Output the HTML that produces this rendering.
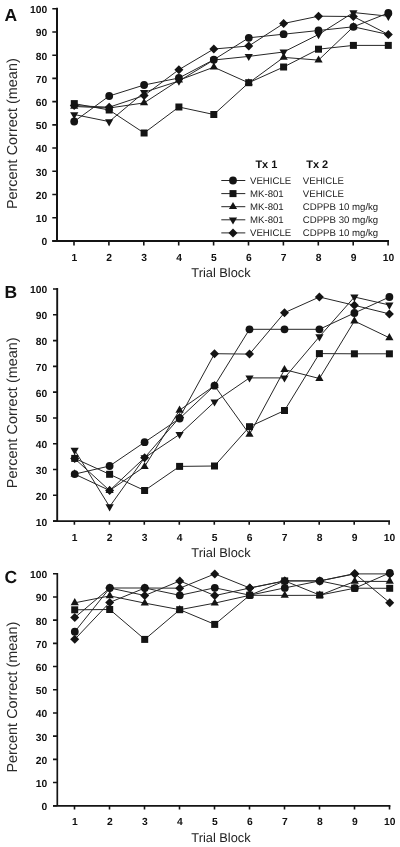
<!DOCTYPE html>
<html><head><meta charset="utf-8"><title>Percent Correct by Trial Block</title>
<style>
html,body{margin:0;padding:0;background:#fff;}
body{width:400px;height:847px;overflow:hidden;}
svg{display:block;will-change:transform;}
text{font-family:"Liberation Sans",sans-serif;fill:#111;text-rendering:geometricPrecision;}
.tl{font-size:10.3px;font-weight:bold;}
.xl{font-size:12.8px;fill:#222;}
.yl{font-size:14.45px;fill:#2a2a2a;}
.pl{font-size:17.5px;font-weight:bold;}
.lh{font-size:11px;font-weight:bold;}
.lt{font-size:9.65px;fill:#222;}
.ax{stroke:#141414;stroke-width:2;fill:none;}
.tk{stroke:#141414;stroke-width:1.6;fill:none;}
.ln{stroke:#262626;stroke-width:1.0;fill:none;}
.mk{fill:#141414;stroke:none;}
</style></head>
<body>
<svg width="400" height="847" viewBox="0 0 400 847">
<path class="ax" style="stroke-width:2.0" d="M57.0 7.8V240.9M52.3 240.9H389.0"/>
<path class="tk" d="M52.3 240.90H57.0M52.3 217.69H57.0M52.3 194.47H57.0M52.3 171.25H57.0M52.3 148.04H57.0M52.3 124.83H57.0M52.3 101.61H57.0M52.3 78.40H57.0M52.3 55.18H57.0M52.3 31.97H57.0M52.3 8.75H57.0"/>
<path class="tk" d="M74.0 240.9V245.6M108.9 240.9V245.6M143.8 240.9V245.6M178.7 240.9V245.6M213.6 240.9V245.6M248.5 240.9V245.6M283.4 240.9V245.6M318.3 240.9V245.6M353.2 240.9V245.6M388.1 240.9V245.6"/>
<text class="tl" x="47.3" y="245.3" text-anchor="end">0</text>
<text class="tl" x="47.3" y="222.1" text-anchor="end">10</text>
<text class="tl" x="47.3" y="198.9" text-anchor="end">20</text>
<text class="tl" x="47.3" y="175.7" text-anchor="end">30</text>
<text class="tl" x="47.3" y="152.4" text-anchor="end">40</text>
<text class="tl" x="47.3" y="129.2" text-anchor="end">50</text>
<text class="tl" x="47.3" y="106.0" text-anchor="end">60</text>
<text class="tl" x="47.3" y="82.8" text-anchor="end">70</text>
<text class="tl" x="47.3" y="59.6" text-anchor="end">80</text>
<text class="tl" x="47.3" y="36.4" text-anchor="end">90</text>
<text class="tl" x="47.3" y="13.2" text-anchor="end">100</text>
<text class="tl" x="74.3" y="261.2" text-anchor="middle">1</text>
<text class="tl" x="109.2" y="261.2" text-anchor="middle">2</text>
<text class="tl" x="144.1" y="261.2" text-anchor="middle">3</text>
<text class="tl" x="179.0" y="261.2" text-anchor="middle">4</text>
<text class="tl" x="213.9" y="261.2" text-anchor="middle">5</text>
<text class="tl" x="248.8" y="261.2" text-anchor="middle">6</text>
<text class="tl" x="283.7" y="261.2" text-anchor="middle">7</text>
<text class="tl" x="318.6" y="261.2" text-anchor="middle">8</text>
<text class="tl" x="353.5" y="261.2" text-anchor="middle">9</text>
<text class="tl" x="388.4" y="261.2" text-anchor="middle">10</text>
<text class="xl" x="221" y="277.0" text-anchor="middle">Trial Block</text>
<text class="yl" transform="translate(17.3 133.7) rotate(-90)" text-anchor="middle">Percent Correct (mean)</text>
<text class="pl" x="4.6" y="20.9">A</text>
<polyline class="ln" points="74.2,103.6 109.2,110.0 144.1,133.0 178.9,107.0 213.8,114.5 248.8,82.7 283.6,67.0 318.5,49.2 353.4,45.4 388.3,45.4"/>
<polyline class="ln" points="74.2,106.5 109.2,108.0 144.1,102.9 178.9,80.2 213.8,67.2 248.8,82.9 283.6,57.4 318.5,60.1 353.4,26.8 388.3,34.5"/>
<polyline class="ln" points="74.2,114.5 109.2,121.6 144.1,92.3 178.9,81.0 213.8,60.0 248.8,56.4 283.6,52.0 318.5,34.5 353.4,12.5 388.3,16.2"/>
<polyline class="ln" points="74.2,105.6 109.2,107.2 144.1,95.5 178.9,69.7 213.8,49.0 248.8,46.0 283.6,23.5 318.5,16.2 353.4,16.5 388.3,34.5"/>
<polyline class="ln" points="74.2,121.5 109.2,96.0 144.1,85.0 178.9,78.0 213.8,59.7 248.8,37.8 283.6,34.2 318.5,30.5 353.4,26.8 388.3,13.0"/>
<g class="mk"><path d="M70.15 108.85H78.35L74.25 101.70Z"/><path d="M105.05 110.40H113.25L109.15 103.25Z"/><path d="M139.95 105.25H148.15L144.05 98.10Z"/><path d="M174.85 82.55H183.05L178.95 75.40Z"/><path d="M209.75 69.55H217.95L213.85 62.40Z"/><path d="M244.65 85.30H252.85L248.75 78.15Z"/><path d="M279.55 59.85H287.75L283.65 52.70Z"/><path d="M314.45 62.55H322.65L318.55 55.40Z"/><path d="M349.35 29.20H357.55L353.45 22.05Z"/><path d="M70.15 112.15H78.35L74.25 119.30Z"/><path d="M105.05 119.25H113.25L109.15 126.40Z"/><path d="M139.95 89.95H148.15L144.05 97.10Z"/><path d="M174.85 78.65H183.05L178.95 85.80Z"/><path d="M209.75 57.60H217.95L213.85 64.75Z"/><path d="M244.65 53.95H252.85L248.75 61.10Z"/><path d="M279.55 49.55H287.75L283.65 56.70Z"/><path d="M314.45 32.05H322.65L318.55 39.20Z"/><path d="M349.35 10.15H357.55L353.45 17.30Z"/><path d="M384.25 13.85H392.45L388.35 21.00Z"/><path d="M74.2 101.1L78.8 105.6L74.2 110.1L69.8 105.6Z"/><path d="M109.2 102.7L113.7 107.2L109.2 111.7L104.7 107.2Z"/><path d="M144.1 91.0L148.6 95.5L144.1 100.0L139.6 95.5Z"/><path d="M178.9 65.2L183.4 69.7L178.9 74.2L174.4 69.7Z"/><path d="M213.8 44.5L218.3 49.0L213.8 53.5L209.3 49.0Z"/><path d="M248.8 41.5L253.2 46.0L248.8 50.5L244.2 46.0Z"/><path d="M283.6 19.0L288.1 23.5L283.6 28.0L279.1 23.5Z"/><path d="M318.5 11.7L323.0 16.2L318.5 20.7L314.0 16.2Z"/><path d="M353.4 12.0L357.9 16.5L353.4 21.0L348.9 16.5Z"/><path d="M388.3 30.0L392.8 34.5L388.3 39.0L383.8 34.5Z"/><rect x="70.8" y="100.1" width="7" height="7"/><rect x="105.7" y="106.5" width="7" height="7"/><rect x="140.6" y="129.5" width="7" height="7"/><rect x="175.4" y="103.5" width="7" height="7"/><rect x="210.3" y="111.0" width="7" height="7"/><rect x="245.2" y="79.2" width="7" height="7"/><rect x="280.1" y="63.5" width="7" height="7"/><rect x="315.0" y="45.7" width="7" height="7"/><rect x="349.9" y="41.9" width="7" height="7"/><rect x="384.8" y="41.9" width="7" height="7"/><circle cx="74.2" cy="121.5" r="3.9"/><circle cx="109.2" cy="96.0" r="3.9"/><circle cx="144.1" cy="85.0" r="3.9"/><circle cx="178.9" cy="78.0" r="3.9"/><circle cx="213.8" cy="59.7" r="3.9"/><circle cx="248.8" cy="37.8" r="3.9"/><circle cx="283.6" cy="34.2" r="3.9"/><circle cx="318.5" cy="30.5" r="3.9"/><circle cx="353.4" cy="26.8" r="3.9"/><circle cx="388.3" cy="13.0" r="3.9"/></g>
<path class="ax" style="stroke-width:1.9" d="M57.2 288.1V521.1M53.0 521.1H390.0"/>
<path class="tk" d="M53.0 521.10H57.2M53.0 495.31H57.2M53.0 469.52H57.2M53.0 443.73H57.2M53.0 417.94H57.2M53.0 392.16H57.2M53.0 366.37H57.2M53.0 340.58H57.2M53.0 314.79H57.2M53.0 289.00H57.2"/>
<path class="tk" d="M74.4 521.1V524.8M109.4 521.1V524.8M144.3 521.1V524.8M179.3 521.1V524.8M214.3 521.1V524.8M249.2 521.1V524.8M284.2 521.1V524.8M319.2 521.1V524.8M354.2 521.1V524.8M389.1 521.1V524.8"/>
<text class="tl" x="47.3" y="525.5" text-anchor="end">10</text>
<text class="tl" x="47.3" y="499.7" text-anchor="end">20</text>
<text class="tl" x="47.3" y="473.9" text-anchor="end">30</text>
<text class="tl" x="47.3" y="448.1" text-anchor="end">40</text>
<text class="tl" x="47.3" y="422.3" text-anchor="end">50</text>
<text class="tl" x="47.3" y="396.6" text-anchor="end">60</text>
<text class="tl" x="47.3" y="370.8" text-anchor="end">70</text>
<text class="tl" x="47.3" y="345.0" text-anchor="end">80</text>
<text class="tl" x="47.3" y="319.2" text-anchor="end">90</text>
<text class="tl" x="47.3" y="293.4" text-anchor="end">100</text>
<text class="tl" x="74.7" y="540.5" text-anchor="middle">1</text>
<text class="tl" x="109.7" y="540.5" text-anchor="middle">2</text>
<text class="tl" x="144.6" y="540.5" text-anchor="middle">3</text>
<text class="tl" x="179.6" y="540.5" text-anchor="middle">4</text>
<text class="tl" x="214.6" y="540.5" text-anchor="middle">5</text>
<text class="tl" x="249.6" y="540.5" text-anchor="middle">6</text>
<text class="tl" x="284.5" y="540.5" text-anchor="middle">7</text>
<text class="tl" x="319.5" y="540.5" text-anchor="middle">8</text>
<text class="tl" x="354.5" y="540.5" text-anchor="middle">9</text>
<text class="tl" x="389.4" y="540.5" text-anchor="middle">10</text>
<text class="xl" x="221" y="557.2" text-anchor="middle">Trial Block</text>
<text class="yl" transform="translate(17.3 412.8) rotate(-90)" text-anchor="middle">Percent Correct (mean)</text>
<text class="pl" x="4.6" y="297.9">B</text>
<polyline class="ln" points="74.7,458.4 109.6,474.3 144.6,490.5 179.6,466.4 214.5,466.0 249.5,426.7 284.5,410.5 319.4,353.6 354.4,353.8 389.4,353.8"/>
<polyline class="ln" points="74.7,474.1 109.6,490.5 144.6,466.6 179.6,410.2 214.5,385.7 249.5,434.4 284.5,369.6 319.4,378.5 354.4,321.0 389.4,337.8"/>
<polyline class="ln" points="74.7,450.2 109.6,506.7 144.6,457.7 179.6,434.4 214.5,401.9 249.5,377.9 284.5,377.9 319.4,336.7 354.4,297.0 389.4,305.0"/>
<polyline class="ln" points="74.7,458.6 109.6,490.5 144.6,457.7 179.6,417.5 214.5,353.7 249.5,354.1 284.5,312.7 319.4,297.0 354.4,305.3 389.4,313.9"/>
<polyline class="ln" points="74.7,474.1 109.6,466.0 144.6,442.2 179.6,418.5 214.5,385.7 249.5,329.3 284.5,329.3 319.4,329.3 354.4,313.0 389.4,297.0"/>
<g class="mk"><path d="M70.55 476.50H78.75L74.65 469.35Z"/><path d="M105.52 492.90H113.72L109.62 485.75Z"/><path d="M140.49 469.05H148.69L144.59 461.90Z"/><path d="M175.46 412.65H183.66L179.56 405.50Z"/><path d="M210.43 388.10H218.63L214.53 380.95Z"/><path d="M245.40 436.85H253.60L249.50 429.70Z"/><path d="M280.37 372.05H288.57L284.47 364.90Z"/><path d="M315.34 380.95H323.54L319.44 373.80Z"/><path d="M350.31 323.45H358.51L354.41 316.30Z"/><path d="M385.28 340.15H393.48L389.38 333.00Z"/><path d="M70.55 447.75H78.75L74.65 454.90Z"/><path d="M105.52 504.25H113.72L109.62 511.40Z"/><path d="M140.49 455.30H148.69L144.59 462.45Z"/><path d="M175.46 431.95H183.66L179.56 439.10Z"/><path d="M210.43 399.45H218.63L214.53 406.60Z"/><path d="M245.40 375.45H253.60L249.50 382.60Z"/><path d="M280.37 375.45H288.57L284.47 382.60Z"/><path d="M315.34 334.25H323.54L319.44 341.40Z"/><path d="M350.31 294.55H358.51L354.41 301.70Z"/><path d="M385.28 302.55H393.48L389.38 309.70Z"/><path d="M74.7 454.1L79.2 458.6L74.7 463.1L70.2 458.6Z"/><path d="M109.6 486.0L114.1 490.5L109.6 495.0L105.1 490.5Z"/><path d="M144.6 453.2L149.1 457.7L144.6 462.2L140.1 457.7Z"/><path d="M179.6 413.0L184.1 417.5L179.6 422.0L175.1 417.5Z"/><path d="M214.5 349.2L219.0 353.7L214.5 358.2L210.0 353.7Z"/><path d="M249.5 349.6L254.0 354.1L249.5 358.6L245.0 354.1Z"/><path d="M284.5 308.2L289.0 312.7L284.5 317.2L280.0 312.7Z"/><path d="M319.4 292.5L323.9 297.0L319.4 301.5L314.9 297.0Z"/><path d="M354.4 300.8L358.9 305.3L354.4 309.8L349.9 305.3Z"/><path d="M389.4 309.4L393.9 313.9L389.4 318.4L384.9 313.9Z"/><rect x="71.2" y="454.9" width="7" height="7"/><rect x="106.1" y="470.8" width="7" height="7"/><rect x="141.1" y="487.0" width="7" height="7"/><rect x="176.1" y="462.9" width="7" height="7"/><rect x="211.0" y="462.5" width="7" height="7"/><rect x="246.0" y="423.2" width="7" height="7"/><rect x="281.0" y="407.0" width="7" height="7"/><rect x="315.9" y="350.1" width="7" height="7"/><rect x="350.9" y="350.3" width="7" height="7"/><rect x="385.9" y="350.3" width="7" height="7"/><circle cx="74.7" cy="474.1" r="3.9"/><circle cx="109.6" cy="466.0" r="3.9"/><circle cx="144.6" cy="442.2" r="3.9"/><circle cx="179.6" cy="418.5" r="3.9"/><circle cx="214.5" cy="385.7" r="3.9"/><circle cx="249.5" cy="329.3" r="3.9"/><circle cx="284.5" cy="329.3" r="3.9"/><circle cx="319.4" cy="329.3" r="3.9"/><circle cx="354.4" cy="313.0" r="3.9"/><circle cx="389.4" cy="297.0" r="3.9"/></g>
<path class="ax" style="stroke-width:1.7" d="M57.3 572.9V805.8M53.0 805.8H390.4"/>
<path class="tk" d="M53.0 805.75H57.3M53.0 782.55H57.3M53.0 759.35H57.3M53.0 736.15H57.3M53.0 712.95H57.3M53.0 689.75H57.3M53.0 666.55H57.3M53.0 643.35H57.3M53.0 620.15H57.3M53.0 596.95H57.3M53.0 573.75H57.3"/>
<path class="tk" d="M74.5 805.8V809.5M109.5 805.8V809.5M144.5 805.8V809.5M179.5 805.8V809.5M214.5 805.8V809.5M249.5 805.8V809.5M284.5 805.8V809.5M319.5 805.8V809.5M354.5 805.8V809.5M389.5 805.8V809.5"/>
<text class="tl" x="47.3" y="810.1" text-anchor="end">0</text>
<text class="tl" x="47.3" y="786.9" text-anchor="end">10</text>
<text class="tl" x="47.3" y="763.8" text-anchor="end">20</text>
<text class="tl" x="47.3" y="740.5" text-anchor="end">30</text>
<text class="tl" x="47.3" y="717.4" text-anchor="end">40</text>
<text class="tl" x="47.3" y="694.1" text-anchor="end">50</text>
<text class="tl" x="47.3" y="670.9" text-anchor="end">60</text>
<text class="tl" x="47.3" y="647.8" text-anchor="end">70</text>
<text class="tl" x="47.3" y="624.5" text-anchor="end">80</text>
<text class="tl" x="47.3" y="601.4" text-anchor="end">90</text>
<text class="tl" x="47.3" y="578.1" text-anchor="end">100</text>
<text class="tl" x="74.8" y="825.0" text-anchor="middle">1</text>
<text class="tl" x="109.8" y="825.0" text-anchor="middle">2</text>
<text class="tl" x="144.8" y="825.0" text-anchor="middle">3</text>
<text class="tl" x="179.8" y="825.0" text-anchor="middle">4</text>
<text class="tl" x="214.8" y="825.0" text-anchor="middle">5</text>
<text class="tl" x="249.8" y="825.0" text-anchor="middle">6</text>
<text class="tl" x="284.8" y="825.0" text-anchor="middle">7</text>
<text class="tl" x="319.8" y="825.0" text-anchor="middle">8</text>
<text class="tl" x="354.8" y="825.0" text-anchor="middle">9</text>
<text class="tl" x="389.8" y="825.0" text-anchor="middle">10</text>
<text class="xl" x="221" y="841.9" text-anchor="middle">Trial Block</text>
<text class="yl" transform="translate(17.3 697.2) rotate(-90)" text-anchor="middle">Percent Correct (mean)</text>
<text class="pl" x="4.6" y="582.7">C</text>
<polyline class="ln" points="74.8,609.8 109.8,609.5 144.8,639.4 179.8,609.7 214.8,624.4 249.8,595.2 284.8,580.9 319.8,595.1 354.8,588.2 389.8,588.3"/>
<polyline class="ln" points="74.8,602.8 109.8,595.9 144.8,603.1 179.8,609.7 214.8,603.1 249.8,595.3 284.8,595.4 319.8,595.3 354.8,581.4 389.8,581.4"/>
<polyline class="ln" points="74.8,617.5 109.8,588.0 144.8,595.5 179.8,580.9 214.8,595.6 249.8,588.0 284.8,580.9 319.8,580.9 354.8,573.9 389.8,573.9"/>
<polyline class="ln" points="74.8,639.3 109.8,602.4 144.8,588.0 179.8,588.2 214.8,573.9 249.8,588.0 284.8,580.9 319.8,580.9 354.8,573.6 389.8,602.8"/>
<polyline class="ln" points="74.8,631.7 109.8,588.0 144.8,588.0 179.8,595.3 214.8,587.8 249.8,595.2 284.8,587.9 319.8,580.9 354.8,588.2 389.8,572.9"/>
<g class="mk"><path d="M70.65 605.15H78.85L74.75 598.00Z"/><path d="M105.65 598.25H113.85L109.75 591.10Z"/><path d="M140.65 605.55H148.85L144.75 598.40Z"/><path d="M175.65 612.10H183.85L179.75 604.95Z"/><path d="M210.65 605.55H218.85L214.75 598.40Z"/><path d="M245.65 597.70H253.85L249.75 590.55Z"/><path d="M280.65 597.80H288.85L284.75 590.65Z"/><path d="M315.65 597.70H323.85L319.75 590.55Z"/><path d="M350.65 583.75H358.85L354.75 576.60Z"/><path d="M385.65 583.75H393.85L389.75 576.60Z"/><path d="M74.8 613.0L79.2 617.5L74.8 622.0L70.2 617.5Z"/><path d="M109.8 583.5L114.2 588.0L109.8 592.5L105.2 588.0Z"/><path d="M144.8 591.0L149.2 595.5L144.8 600.0L140.2 595.5Z"/><path d="M179.8 576.4L184.2 580.9L179.8 585.4L175.2 580.9Z"/><path d="M214.8 591.1L219.2 595.6L214.8 600.1L210.2 595.6Z"/><path d="M249.8 583.5L254.2 588.0L249.8 592.5L245.2 588.0Z"/><path d="M284.8 576.4L289.2 580.9L284.8 585.4L280.2 580.9Z"/><path d="M319.8 576.4L324.2 580.9L319.8 585.4L315.2 580.9Z"/><path d="M354.8 569.4L359.2 573.9L354.8 578.4L350.2 573.9Z"/><path d="M389.8 569.4L394.2 573.9L389.8 578.4L385.2 573.9Z"/><path d="M74.8 634.8L79.2 639.3L74.8 643.8L70.2 639.3Z"/><path d="M109.8 597.9L114.2 602.4L109.8 606.9L105.2 602.4Z"/><path d="M144.8 583.5L149.2 588.0L144.8 592.5L140.2 588.0Z"/><path d="M179.8 583.7L184.2 588.2L179.8 592.7L175.2 588.2Z"/><path d="M214.8 569.4L219.2 573.9L214.8 578.4L210.2 573.9Z"/><path d="M249.8 583.5L254.2 588.0L249.8 592.5L245.2 588.0Z"/><path d="M284.8 576.4L289.2 580.9L284.8 585.4L280.2 580.9Z"/><path d="M319.8 576.4L324.2 580.9L319.8 585.4L315.2 580.9Z"/><path d="M354.8 569.1L359.2 573.6L354.8 578.1L350.2 573.6Z"/><path d="M389.8 598.3L394.2 602.8L389.8 607.3L385.2 602.8Z"/><rect x="71.2" y="606.3" width="7" height="7"/><rect x="106.2" y="606.0" width="7" height="7"/><rect x="141.2" y="635.9" width="7" height="7"/><rect x="176.2" y="606.2" width="7" height="7"/><rect x="211.2" y="620.9" width="7" height="7"/><rect x="246.2" y="591.7" width="7" height="7"/><rect x="281.2" y="577.4" width="7" height="7"/><rect x="316.2" y="591.6" width="7" height="7"/><rect x="351.2" y="584.7" width="7" height="7"/><rect x="386.2" y="584.8" width="7" height="7"/><circle cx="74.8" cy="631.7" r="3.9"/><circle cx="109.8" cy="588.0" r="3.9"/><circle cx="144.8" cy="588.0" r="3.9"/><circle cx="179.8" cy="595.3" r="3.9"/><circle cx="214.8" cy="587.8" r="3.9"/><circle cx="249.8" cy="595.2" r="3.9"/><circle cx="284.8" cy="587.9" r="3.9"/><circle cx="319.8" cy="580.9" r="3.9"/><circle cx="354.8" cy="588.2" r="3.9"/><circle cx="389.8" cy="572.9" r="3.9"/></g>
<text class="lh" x="255.4" y="167.6">Tx 1</text>
<text class="lh" x="306.2" y="167.6">Tx 2</text>
<path class="ln" d="M221.3 180.5H245.3"/>
<g class="mk"><circle cx="233.0" cy="180.5" r="3.9"/></g>
<text class="lt" x="250" y="184.0">VEHICLE</text>
<text class="lt" x="302.8" y="184.0">VEHICLE</text>
<path class="ln" d="M221.3 193.6H245.3"/>
<g class="mk"><rect x="229.5" y="190.1" width="7" height="7"/></g>
<text class="lt" x="250" y="197.1">MK-801</text>
<text class="lt" x="302.8" y="197.1">VEHICLE</text>
<path class="ln" d="M221.3 206.7H245.3"/>
<g class="mk"><path d="M228.90 209.10H237.10L233.00 201.95Z"/></g>
<text class="lt" x="250" y="210.2">MK-801</text>
<text class="lt" x="302.8" y="210.2">CDPPB 10 mg/kg</text>
<path class="ln" d="M221.3 219.8H245.3"/>
<g class="mk"><path d="M228.90 217.40H237.10L233.00 224.55Z"/></g>
<text class="lt" x="250" y="223.3">MK-801</text>
<text class="lt" x="302.8" y="223.3">CDPPB 30 mg/kg</text>
<path class="ln" d="M221.3 232.9H245.3"/>
<g class="mk"><path d="M233.0 228.4L237.5 232.9L233.0 237.4L228.5 232.9Z"/></g>
<text class="lt" x="250" y="236.4">VEHICLE</text>
<text class="lt" x="302.8" y="236.4">CDPPB 10 mg/kg</text>
</svg>
</body></html>
